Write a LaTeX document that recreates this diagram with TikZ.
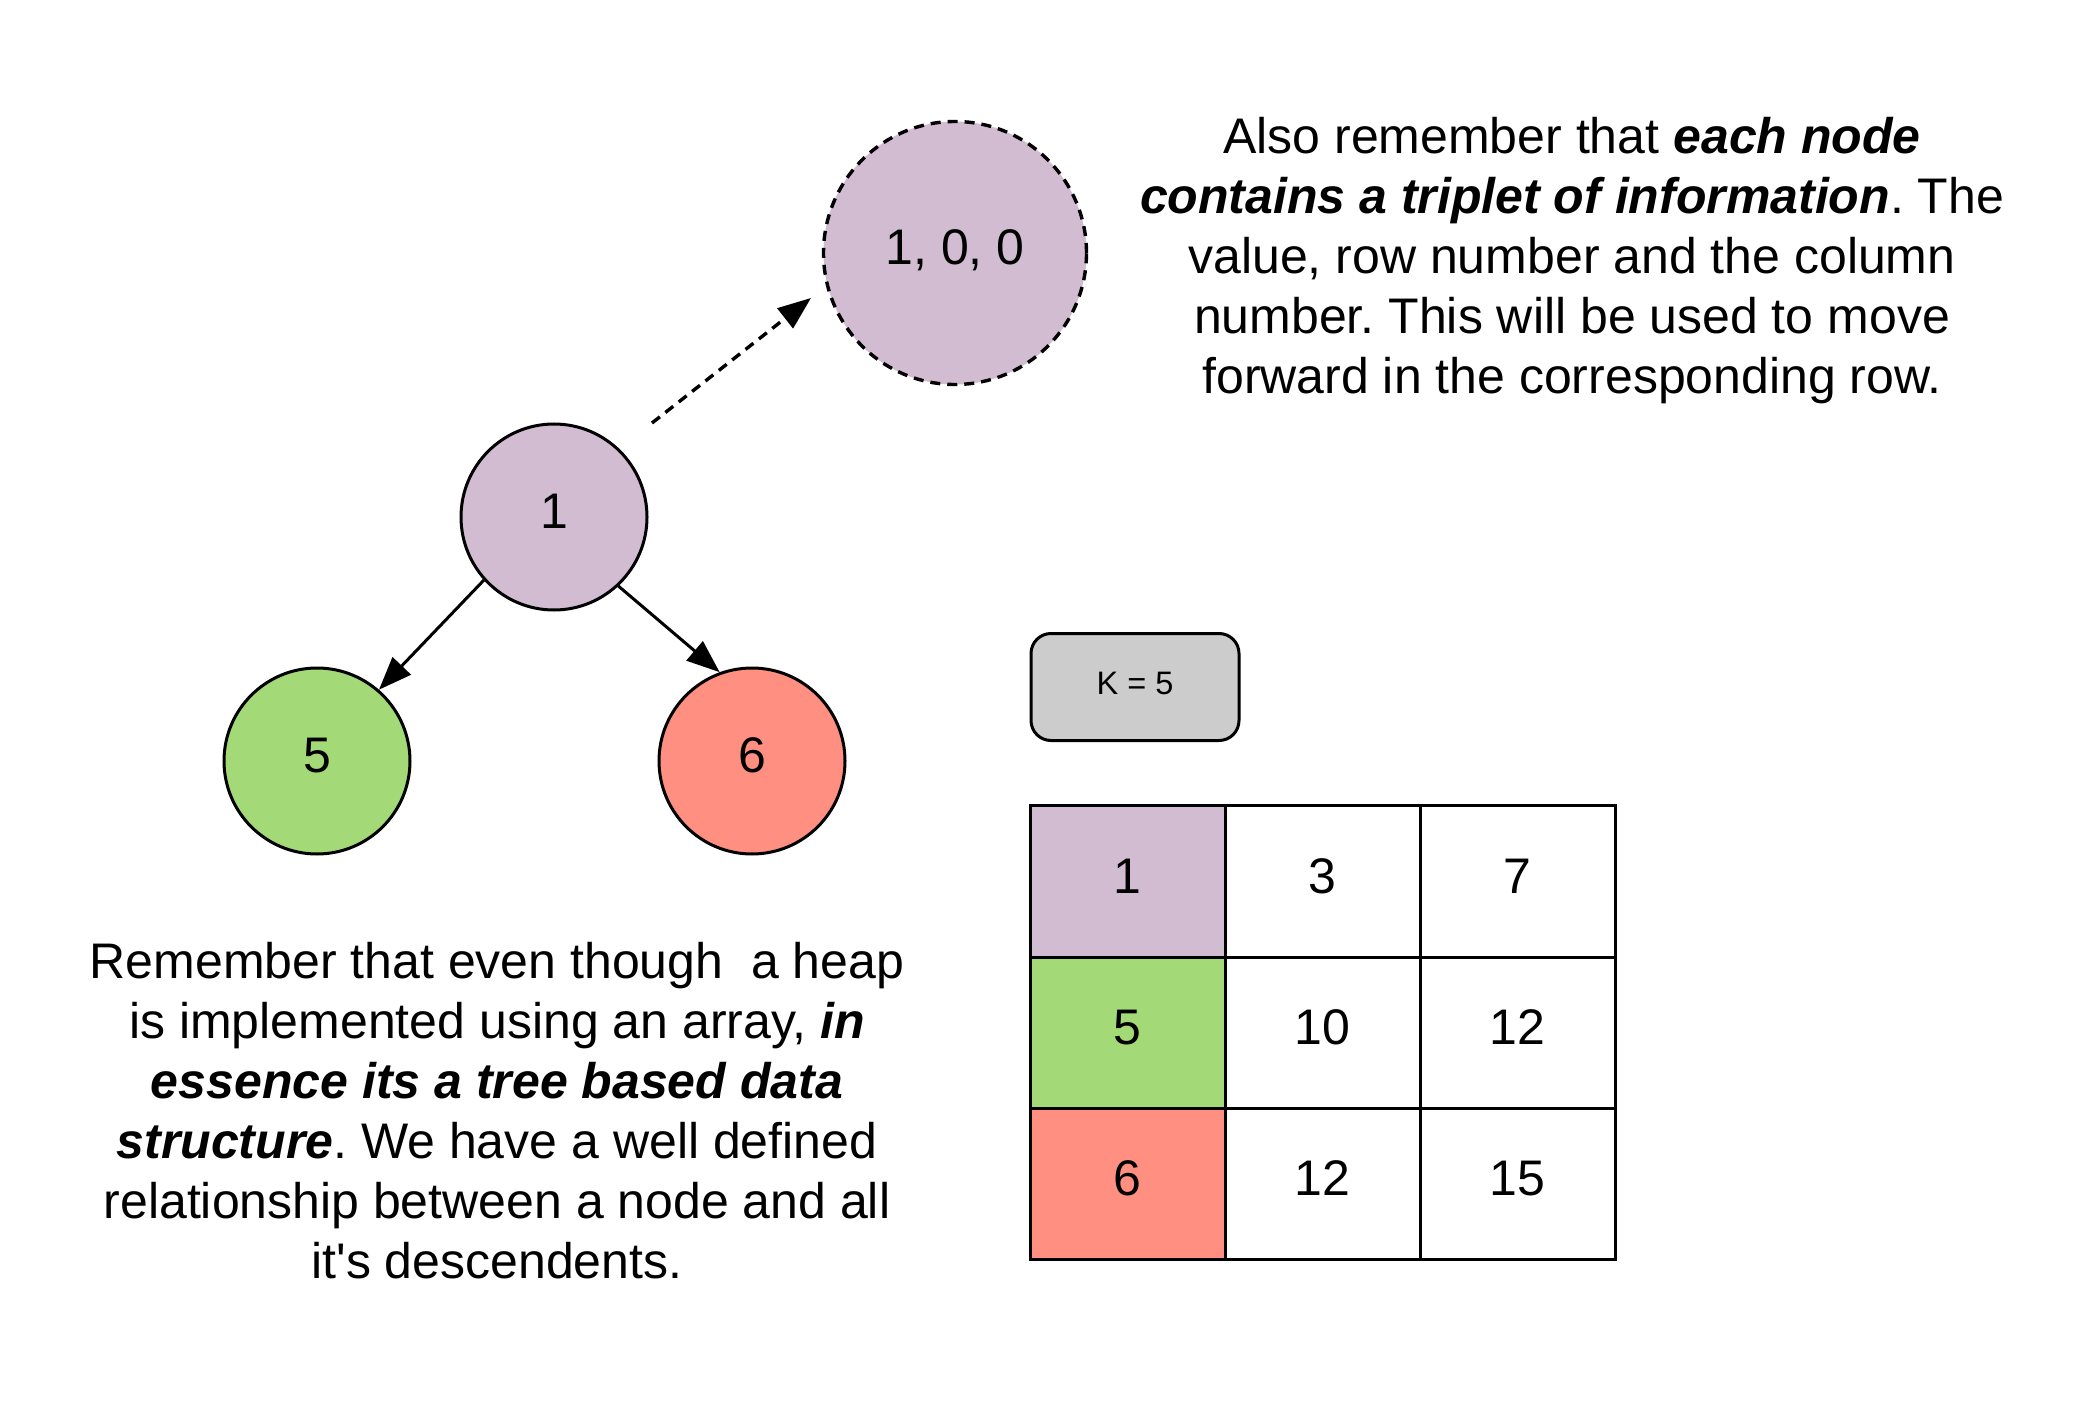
\documentclass[tikz,border=0pt]{standalone}
\usepackage{fontspec}
\setmainfont{Liberation Sans}
\usetikzlibrary{arrows.meta}
\definecolor{cpurple}{HTML}{D1BCD2}
\definecolor{cgreen}{HTML}{A3D977}
\definecolor{cred}{HTML}{FF8F80}
\definecolor{cgray}{HTML}{CCCCCC}
\newcommand{\bfit}[1]{\textbf{\textit{#1}}}
\frenchspacing
\begin{document}
\begin{tikzpicture}[x=1pt,y=-1pt,line width=3pt,
  bigfont/.style={font=\fontsize{50}{60}\selectfont},
  numtext/.style={bigfont,text height=36pt,text depth=13pt},
  circ/.style={circle,draw,inner sep=0pt,minimum size=186pt,numtext},
  cell/.style={rectangle,draw,inner sep=0pt,minimum width=195pt,minimum height=151.3pt,numtext},
  arr/.style={-{Triangle[length=33pt,width=25pt]}},
  dsh/.style={line width=3.4pt,dash pattern=on 10pt off 7pt},
  para/.style={align=center,inner sep=0pt,bigfont}]
\useasboundingbox (0,0) rectangle (2094,1404);
\fill[white] (0,0) rectangle (2094,1404);

% tree
\node[circ,fill=cpurple] (n1) at (554,517) {1};
\node[circ,fill=cgreen] (n5) at (317,761) {5};
\node[circ,fill=cred] (n6) at (752,761) {6};
\node[circle,draw,dsh,inner sep=0pt,minimum size=263pt,fill=cpurple,numtext] (trip) at (955,253) {1, 0, 0};

\draw[arr] (n1.-138) -- (n5.49);
\draw[arr] (n1.-47) -- (n6.110);
\coordinate (ds) at (652,423);
\coordinate (de) at (811,298);
\draw[arr,dsh] (ds) -- (de);

% K box
\node[draw,rounded corners=20pt,fill=cgray,minimum width=208pt,minimum height=107pt,inner sep=0pt,font=\fontsize{32.5}{39}\selectfont,text height=23.3pt,text depth=8pt] (k) at (1135,687) {K = 5};

% table
\node[cell,fill=cpurple] (c11) at (1127.5,881.6) {1};
\node[cell] (c12) at (1322.5,881.6) {3};
\node[cell] (c13) at (1517.5,881.6) {7};
\node[cell,fill=cgreen] (c21) at (1127.5,1032.9) {5};
\node[cell] (c22) at (1322.5,1032.9) {10};
\node[cell] (c23) at (1517.5,1032.9) {12};
\node[cell,fill=cred] (c31) at (1127.5,1184.2) {6};
\node[cell] (c32) at (1322.5,1184.2) {12};
\node[cell] (c33) at (1517.5,1184.2) {15};

% texts
\node[para] (t1) at (1572,261) {Also remember that \bfit{each node}\\
\bfit{contains a triplet of information}. The\\
value, row number and the column\\
number. This will be used to move\\
forward in the corresponding row.};

\node[para] (t2) at (497,1111) {Remember that even though \ a heap\\
is implemented using an array, \bfit{in}\\
\bfit{essence its a tree based data}\\
\bfit{structure}. We have a well defined\\
relationship between a node and all\\
it\textquotesingle s descendents.};
\end{tikzpicture}
\end{document}
